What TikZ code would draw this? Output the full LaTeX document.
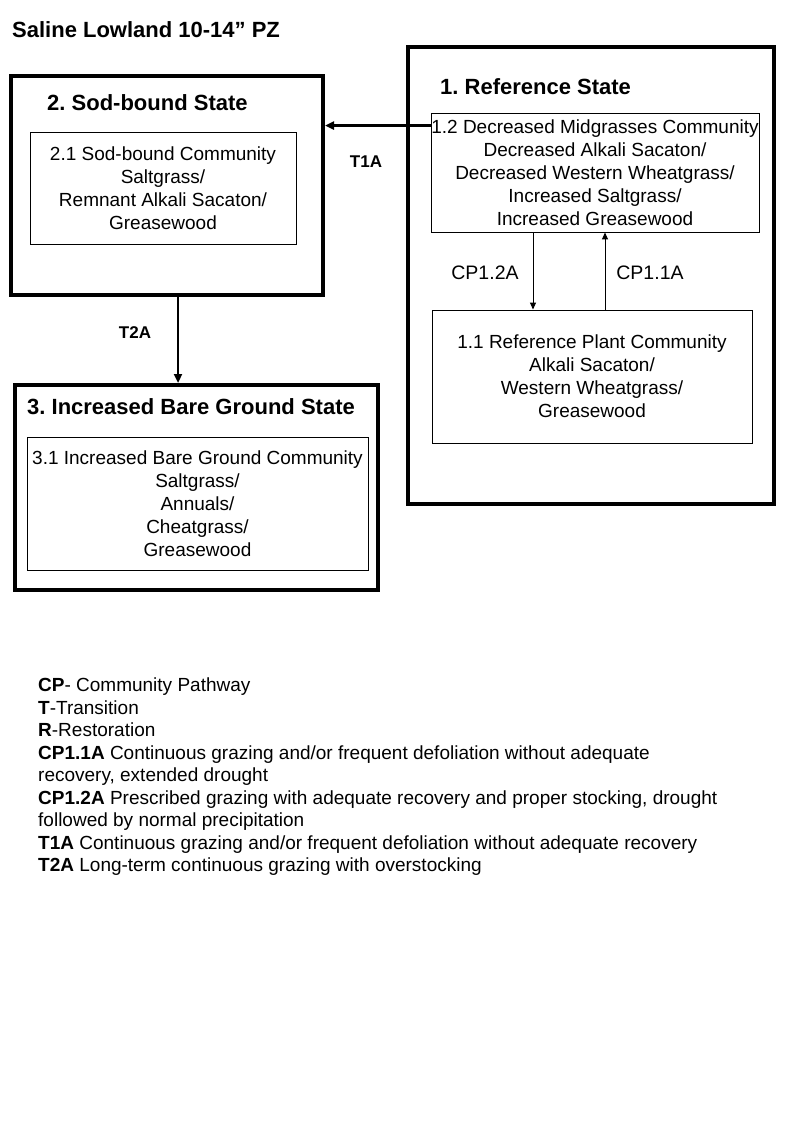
\documentclass[tikz,border=0pt]{standalone}
\usepackage{fontspec}
\setmainfont{Liberation Sans}
\usetikzlibrary{arrows.meta}
\frenchspacing

\begin{document}
\begin{tikzpicture}[x=1pt,y=-1pt,
	state/.style={draw, line width=4pt, inner sep=0pt},
	community/.style={draw, line width=.9pt, align=center, inner sep=0pt,
		font=\fontsize{19}{23}\selectfont},
	heading/.style={anchor=base west, inner sep=0pt, font=\fontsize{22}{26}\selectfont\bfseries},
	tlabel/.style={inner sep=0pt, font=\fontsize{17}{20}\selectfont\bfseries},
	cplabel/.style={inner sep=0pt, font=\fontsize{19.5}{22}\selectfont},
	trans/.style={line width=2.5pt, -{Triangle[length=9pt,width=8pt]}},
	pathway/.style={line width=1pt, -{Triangle[length=7pt,width=6pt]}}]

	\useasboundingbox (0,0) rectangle (800,1143);

	\node[heading] (title) at (12,37) {Saline Lowland 10-14” PZ};

	% states
	\node[state, minimum width=366pt, minimum height=457pt] (s1) at (591,275.5) {};
	\node[state, minimum width=312pt, minimum height=219pt] (s2) at (167,185.5) {};
	\node[state, minimum width=363pt, minimum height=205pt] (s3) at (196.5,487.5) {};

	\node[heading] (h1) at (440,94.5) {1. Reference State};
	\node[heading] (h2) at (47,110.5) {2. Sod-bound State};
	\node[heading] (h3) at (27,414.5) {3. Increased Bare Ground State};

	% communities
	\node[community, minimum width=328pt, minimum height=119pt] (c12) at (595,172.5)
		{1.2 Decreased Midgrasses Community\\Decreased Alkali Sacaton/\\Decreased Western Wheatgrass/\\Increased Saltgrass/\\Increased Greasewood};
	\node[community, minimum width=320pt, minimum height=133pt] (c11) at (592,376.5)
		{1.1 Reference Plant Community\\Alkali Sacaton/\\Western Wheatgrass/\\Greasewood};
	\node[community, minimum width=266pt, minimum height=112pt] (c21) at (163,188)
		{2.1 Sod-bound Community\\Saltgrass/\\Remnant Alkali Sacaton/\\Greasewood};
	\node[community, minimum width=341pt, minimum height=133pt] (c31) at (197.5,503.5)
		{3.1 Increased Bare Ground Community\\Saltgrass/\\Annuals/\\Cheatgrass/\\Greasewood};

	% pathways and transitions
	\draw[pathway] ([xshift=-62pt]c12.south) -- ([xshift=-62pt]c12.south |- c11.north);
	\draw[pathway] ([xshift=13pt]c11.north) -- ([xshift=13pt]c11.north |- c12.south);
	\draw[trans] ([yshift=-13pt]c12.north west) coordinate (t1a) -- (t1a -| s2.east);
	\draw[trans] ([xshift=11pt]s2.south) -- ([xshift=11pt]s2.south |- s3.north);

	\node[cplabel] (l12) at (485,273) {CP1.2A};
	\node[cplabel] (l11) at (650,273) {CP1.1A};
	\node[tlabel] (lt1) at (366,162) {T1A};
	\node[tlabel] (lt2) at (135,333) {T2A};

	% legend
	\node[anchor=base west, align=left, inner sep=0pt, font=\fontsize{19}{22.5}\selectfont] (key) at (38,871.5)
		{\textbf{CP}- Community Pathway\\
		\textbf{T}-Transition\\
		\textbf{R}-Restoration\\
		\textbf{CP1.1A} Continuous grazing and/or frequent defoliation without adequate\\
		recovery, extended drought\\
		\textbf{CP1.2A} Prescribed grazing with adequate recovery and proper stocking, drought\\
		followed by normal precipitation\\
		\textbf{T1A} Continuous grazing and/or frequent defoliation without adequate recovery\\
		\textbf{T2A} Long-term continuous grazing with overstocking};

\end{tikzpicture}
\end{document}
